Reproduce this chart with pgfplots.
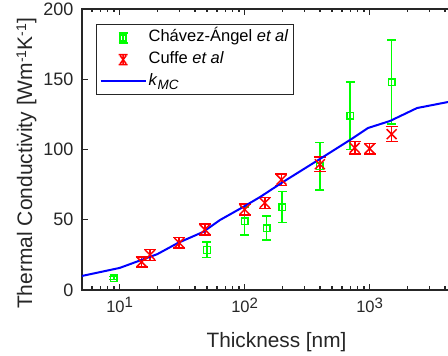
\documentclass[border=0pt]{standalone}
\usepackage{fontspec}
\setmainfont{Liberation Sans}
\usepackage{pgfplots}
\pgfplotsset{compat=1.18}
\definecolor{axc}{RGB}{38,38,38}
\definecolor{mgreen}{RGB}{0,255,0}
\definecolor{mred}{RGB}{255,0,0}
\definecolor{mblue}{RGB}{0,0,255}
\newcommand{\tp}[1]{10\raisebox{4.5pt}{\fontsize{15}{15}\selectfont #1}}

\pgfkeys{/pgfplots/error bars/my color/.initial=black,
         /pgfplots/error bars/my cap/.initial=5pt}
\pgfplotsset{error bars/draw error bar/.code 2 args={%
  \edef\ebcol{\pgfkeysvalueof{/pgfplots/error bars/my color}}%
  \edef\ebcap{\pgfkeysvalueof{/pgfplots/error bars/my cap}}%
  \pgfsetlinewidth{1.6pt}\pgfsetstrokecolor{\ebcol}%
  \pgfpathmoveto{#1}\pgfpathlineto{#2}\pgfusepath{stroke}%
  \draw[draw=\ebcol, line width=1.6pt, solid] #1 -- #2
    node[pos=1, sloped, allow upside down, inner sep=0pt]
    {\tikz[color=\ebcol, line width=1.5pt, rotate=90, mark size=\ebcap]{\pgfuseplotmark{-}\pgfusepath{stroke}}};}}

\pgfplotstableread{
x y e
9 8.5 1
50 28.5 5.5
100 49 10
150 44 8.5
200 59 11
400 88 17
700 124 24
1500 148 30
}\chavez

\pgfplotstableread{
x y e
15 20 3.5
17.5 25 4
30 33.5 3.7
48 43 4
100 57.3 3.9
145 62 4
197 78.5 4
400 89.5 5.3
760 101.2 4.4
1000 100.6 3.8
1500 110.9 5.3
}\cuffe

\pgfplotstableread{
x y
5 10.0
10 15.7
20 25.5
29.3 33.5
46.5 41.3
63.5 49.8
97 59.0
133 66.2
203 76.9
401 93.3
697 106.8
971 115.3
1456 120.3
2393 129.5
4236 133.8
5000 135.2
}\kmc

\begin{document}
\begin{tikzpicture}
\begin{axis}[
  scale only axis, width=375pt, height=281pt,
  xmode=log, xmin=5, xmax=5000, ymin=0, ymax=200,
  xtick={10,100,1000},
  xticklabels={\tp{1},\tp{2},\tp{3}},
  minor xtick={6,7,8,9,20,30,40,50,60,70,80,90,200,300,400,500,600,700,800,900,2000,3000,4000},
  ytick={0,50,100,150,200},
  tick align=inside,
  major tick length=6pt, minor tick length=3.5pt,
  major tick style={axc, line width=1.3pt},
  minor tick style={axc, line width=1.3pt},
  axis line style={axc, line width=2pt},
  /pgf/number format/assume math mode=true,
  xticklabel style={font=\fontsize{16.5}{18}\selectfont, text=axc, yshift=-4pt},
  yticklabel style={font=\fontsize{18}{20}\selectfont, text=axc, xshift=-5pt},
  xlabel={Thickness [nm]},
  ylabel={Thermal Conductivity [Wm\raisebox{6pt}{\fontsize{14}{14}\selectfont -1}K\raisebox{6pt}{\fontsize{14}{14}\selectfont -1}]},
  xlabel style={font=\fontsize{20.8}{22}\selectfont, text=axc, xshift=7pt, yshift=-13pt},
  ylabel style={font=\fontsize{21}{22}\selectfont, text=axc, yshift=0pt, xshift=-14pt},
  legend style={at={(axis description cs:0,1)}, anchor=north west, xshift=14pt, yshift=-15pt,
    draw=axc, line width=1.3pt, font=\fontsize{16.5}{18}\selectfont, text=black,
    inner xsep=3pt, inner ysep=2.5pt, row sep=0pt,
    nodes={inner sep=2pt, anchor=west, text height=12.7pt, text depth=5pt}},
  legend cell align=left,
]
\coordinate (SW) at (rel axis cs:0,0);
\addplot[only marks, mgreen, mark=square, mark size=3.3pt, line width=1.5pt,
  error bars/y dir=both, error bars/y explicit,
  error bars/my color=mgreen, error bars/my cap=4.5pt,
  legend image code/.code={
    \path (0pt,0pt) (45pt,0pt);
    \draw[mgreen, line width=1.5pt] (22.5pt,-5pt) -- (22.5pt,5pt)
      (18pt,-5pt) -- (27pt,-5pt) (18pt,5pt) -- (27pt,5pt);
    \draw[mgreen, line width=1.5pt] (19.5pt,-3pt) rectangle (25.5pt,3pt);
  }]
  table[x=x, y=y, y error=e] {\chavez};
\addlegendentry{Chávez-Ángel \textit{et al}}
\addplot[only marks, mred, mark=x, mark size=7pt, line width=1.5pt,
  error bars/y dir=both, error bars/y explicit,
  error bars/my color=mred, error bars/my cap=6pt,
  legend image code/.code={
    \path (0pt,0pt) (45pt,0pt);
    \draw[mred, line width=1.5pt] (22.5pt,-5pt) -- (22.5pt,5pt)
      (18pt,-5pt) -- (27pt,-5pt) (18pt,5pt) -- (27pt,5pt)
      (19.5pt,-4pt) -- (25.5pt,4pt) (19.5pt,4pt) -- (25.5pt,-4pt);
  }]
  table[x=x, y=y, y error=e] {\cuffe};
\addlegendentry{Cuffe \textit{et al}}
\addplot[mblue, line width=2pt, mark=none,
  legend image code/.code={\draw[mblue, line width=2pt] (0pt,0pt) -- (45pt,0pt);}]
  table[x=x, y=y] {\kmc};
\addlegendentry{\textit{k}\raisebox{-4pt}{\fontsize{13.5}{14}\selectfont\textit{MC}}}
\end{axis}
\pgfresetboundingbox
\path[use as bounding box] (SW) ++(-82pt,-66pt) rectangle ++(448pt,356pt);
\end{tikzpicture}
\end{document}
